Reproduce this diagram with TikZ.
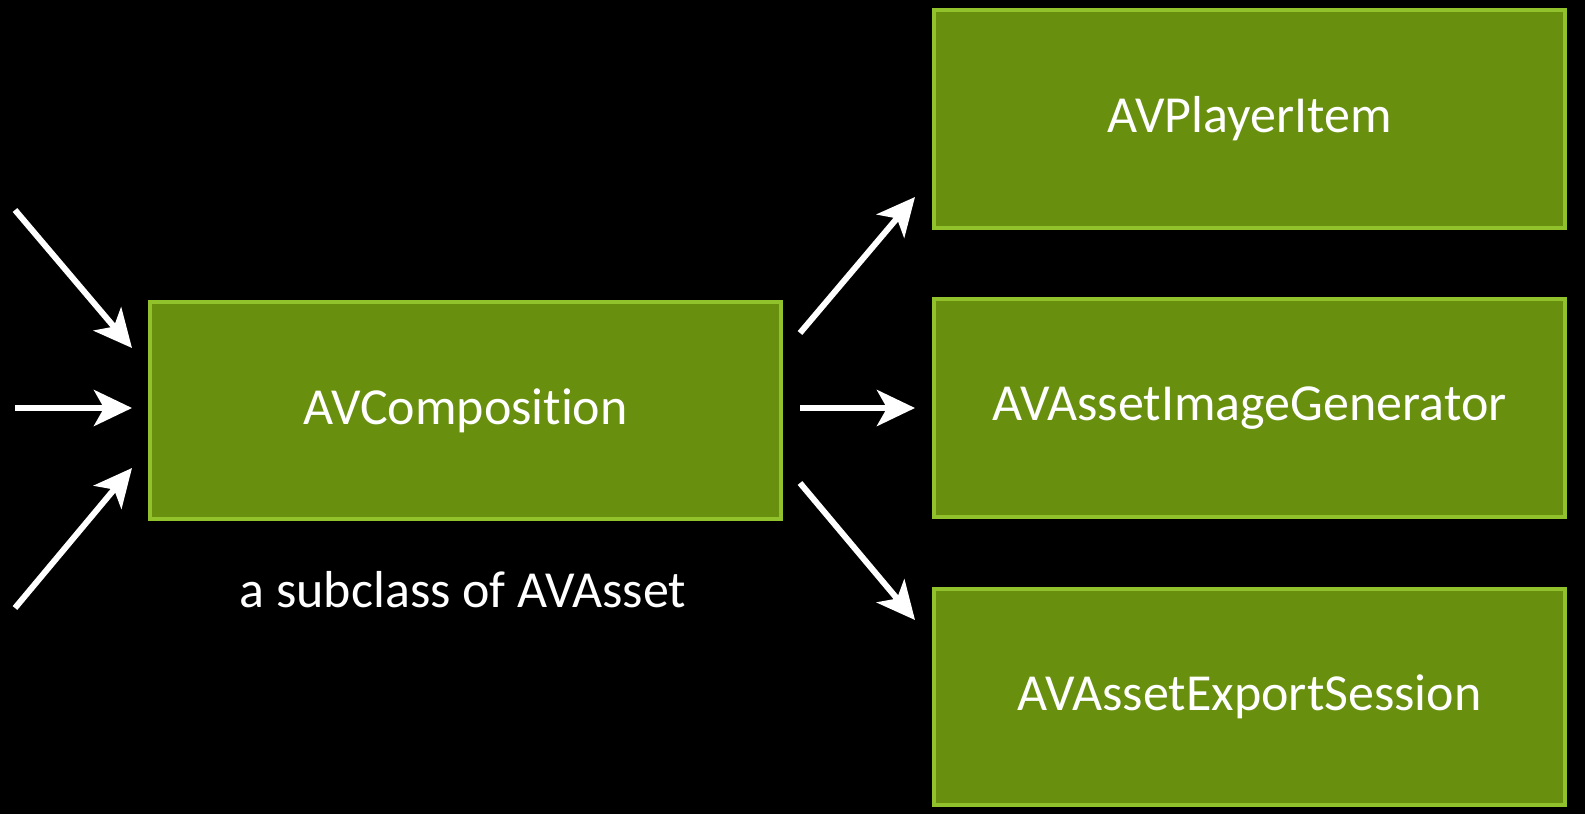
\documentclass[tikz,border=0pt]{standalone}
\usepackage{fontspec}
\setmainfont[Ligatures={NoCommon}]{Carlito}
\usetikzlibrary{arrows.meta}
\definecolor{boxfill}{HTML}{688F0E}
\definecolor{boxline}{HTML}{92C22B}
\tikzset{
  box/.style={draw=boxline, line width=4pt, fill=boxfill, inner sep=0pt, anchor=north west, text=white, font=\fontsize{52}{60}\selectfont},
  arr/.style={draw=white, line width=6pt, -{Stealth[length=38pt,width=36pt,inset=10pt]}},
  lbl/.style={text=white, font=\fontsize{52}{60}\selectfont}
}
\begin{document}
\begin{tikzpicture}[x=1pt,y=-1pt]
\fill[black] (0,0) rectangle (1585,814);
\useasboundingbox (0,0) rectangle (1585,814);
\node[box, minimum width=631pt, minimum height=217pt] (comp) at (148,300) {AVComposition};
\node[box, minimum width=631pt, minimum height=218pt] (player) at (932,8) {AVPlayerItem};
\node[box, minimum width=631pt, minimum height=218pt] (imggen) at (932,297) {AVAssetImageGenerator};
\node[box, minimum width=631pt, minimum height=216pt] (export) at (932,587) {AVAssetExportSession};
\node[lbl] (sub) at (463,590) {a subclass of AVAsset};
\coordinate (l1s) at (15,210);
\coordinate (l1e) at (132,348);
\coordinate (l2s) at (15,408);
\coordinate (l2e) at (132,408);
\coordinate (l3s) at (15,608);
\coordinate (l3e) at (132,468);
\coordinate (r1s) at (800,333);
\coordinate (r1e) at (915,197);
\coordinate (r2s) at (800,408);
\coordinate (r2e) at (915,408);
\coordinate (r3s) at (800,483);
\coordinate (r3e) at (915,620);
\draw[arr] (l1s) -- (l1e);
\draw[arr] (l2s) -- (l2e);
\draw[arr] (l3s) -- (l3e);
\draw[arr] (r1s) -- (r1e);
\draw[arr] (r2s) -- (r2e);
\draw[arr] (r3s) -- (r3e);
\end{tikzpicture}
\end{document}
